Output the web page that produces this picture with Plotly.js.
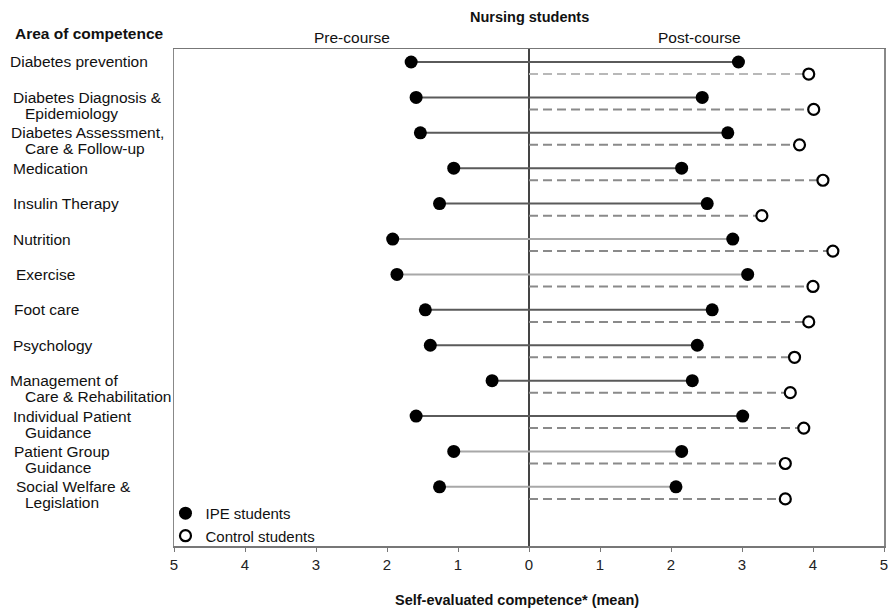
<!DOCTYPE html>
<html>
<head>
<meta charset="utf-8">
<script src="https://cdn.plot.ly/plotly-3.0.1.min.js"></script>
<style>html,body{margin:0;padding:0;background:#fff;}#chart{width:888px;height:608px;}</style>
</head>
<body>
<div id="chart"></div>
<script>
// ---- data ----
const categories = [
  ["Diabetes prevention"],
  ["Diabetes Diagnosis &", "Epidemiology"],
  ["Diabetes Assessment,", "Care & Follow-up"],
  ["Medication"],
  ["Insulin Therapy"],
  ["Nutrition"],
  ["Exercise"],
  ["Foot care"],
  ["Psychology"],
  ["Management of", "Care & Rehabilitation"],
  ["Individual Patient", "Guidance"],
  ["Patient Group", "Guidance"],
  ["Social Welfare &", "Legislation"]
];
const ipePre  = [1.66, 1.59, 1.53, 1.06, 1.26, 1.92, 1.86, 1.46, 1.39, 0.52, 1.59, 1.06, 1.26];
const ipePost = [2.95, 2.44, 2.80, 2.15, 2.51, 2.87, 3.08, 2.58, 2.37, 2.30, 3.01, 2.15, 2.07];
const controlPost = [3.94, 4.01, 3.81, 4.14, 3.28, 4.28, 4.00, 3.94, 3.74, 3.68, 3.87, 3.61, 3.61];
const tickVals = [-5, -4, -3, -2, -1, 0, 1, 2, 3, 4, 5];
const tickText = ["5", "4", "3", "2", "1", "0", "1", "2", "3", "4", "5"];

// ---- styling ----
const lightRows = [5, 6, 11, 12];
const ctrlOffset = 0.34;
const FONT = "Liberation Sans, Arial, sans-serif";
const traces = [];
const rows = categories.map((c, i) => i);

rows.forEach(i => {
  traces.push({
    x: [-ipePre[i], ipePost[i]], y: [i, i], mode: "lines", type: "scatter",
    line: {color: lightRows.includes(i) ? "#a8a8a8" : "#5a5a5a", width: 2},
    showlegend: false, hoverinfo: "skip"
  });
  traces.push({
    x: [0, controlPost[i]], y: [i + ctrlOffset, i + ctrlOffset], mode: "lines", type: "scatter",
    line: {color: i === 0 ? "#b8b8b8" : "#8a8a8a", width: 2, dash: "9px,5px"},
    showlegend: false, hoverinfo: "skip"
  });
});
traces.push({
  x: ipePre.map(v => -v), y: rows, mode: "markers", type: "scatter",
  marker: {color: "#000", size: 13}, showlegend: false
});
traces.push({
  name: "IPE students",
  x: ipePost, y: rows, mode: "markers", type: "scatter",
  marker: {color: "#000", size: 13}
});
traces.push({
  name: "Control students",
  x: controlPost, y: rows.map(i => i + ctrlOffset), mode: "markers", type: "scatter",
  marker: {color: "#fff", size: 11, line: {color: "#000", width: 2.2}}
});

const L = 174, R = 884, W = 888;
const px2paper = p => (p - L) / (R - L);
const annotations = [];
const labelX = [8, 11, 9, 11, 11, 11, 14, 12, 11, 8, 11, 12, 14];
categories.forEach((lines, i) => {
  lines.forEach((t, k) => {
    annotations.push({
      text: t, xref: "paper", yref: "y", x: px2paper(k === 0 ? labelX[i] : 23), y: i,
      xanchor: "left", yanchor: "middle", yshift: -16 * k, showarrow: false,
      font: {family: FONT, size: 15.5, color: "#111"}
    });
  });
});
annotations.push(
  {text: "<b>Area of competence</b>", xref: "paper", yref: "paper", x: px2paper(13), y: 1, yshift: 16,
   xanchor: "left", yanchor: "middle", showarrow: false, font: {family: FONT, size: 15.5, color: "#111"}},
  {text: "<b>Nursing students</b>", xref: "x", yref: "paper", x: 0, y: 1, yshift: 32,
   xanchor: "center", yanchor: "middle", showarrow: false, font: {family: FONT, size: 14.5, color: "#111"}},
  {text: "Pre-course", xref: "x", yref: "paper", x: -2.5, y: 1, yshift: 12,
   xanchor: "center", yanchor: "middle", showarrow: false, font: {family: FONT, size: 15.5, color: "#111"}},
  {text: "Post-course", xref: "x", yref: "paper", x: 2.4, y: 1, yshift: 12,
   xanchor: "center", yanchor: "middle", showarrow: false, font: {family: FONT, size: 15.5, color: "#111"}},
  {text: "<b>Self-evaluated competence* (mean)</b>", xref: "paper", yref: "paper", x: px2paper(517), y: 0, yshift: -54,
   xanchor: "center", yanchor: "middle", showarrow: false, font: {family: FONT, size: 14.5, color: "#111"}}
);

const layout = {
  width: 888, height: 608,
  margin: {l: L, r: W - R, t: 49, b: 62},
  paper_bgcolor: "#fff", plot_bgcolor: "#fff",
  font: {family: FONT, color: "#111"},
  xaxis: {
    range: [-5, 5], tickvals: tickVals, ticktext: tickText, ticklabeloverflow: "allow",
    showgrid: false, zeroline: true, zerolinecolor: "#444", zerolinewidth: 1.5,
    showline: true, mirror: true, linecolor: "#777", linewidth: 1.5,
    ticks: "outside", ticklen: 4, tickcolor: "#777",
    tickfont: {family: FONT, size: 15, color: "#222"}
  },
  yaxis: {
    range: [13.67, -0.367], showticklabels: false, showgrid: false, zeroline: false,
    showline: true, mirror: true, linecolor: "#888", linewidth: 1.5, ticks: ""
  },
  showlegend: true,
  legend: {x: -0.012, y: -0.012, xanchor: "left", yanchor: "bottom", bgcolor: "rgba(0,0,0,0)",
           font: {family: FONT, size: 15, color: "#111"}, itemwidth: 30, tracegroupgap: 0},
  annotations: annotations
};
Plotly.newPlot("chart", traces, layout, {displayModeBar: false, staticPlot: true});
</script>
</body>
</html>
